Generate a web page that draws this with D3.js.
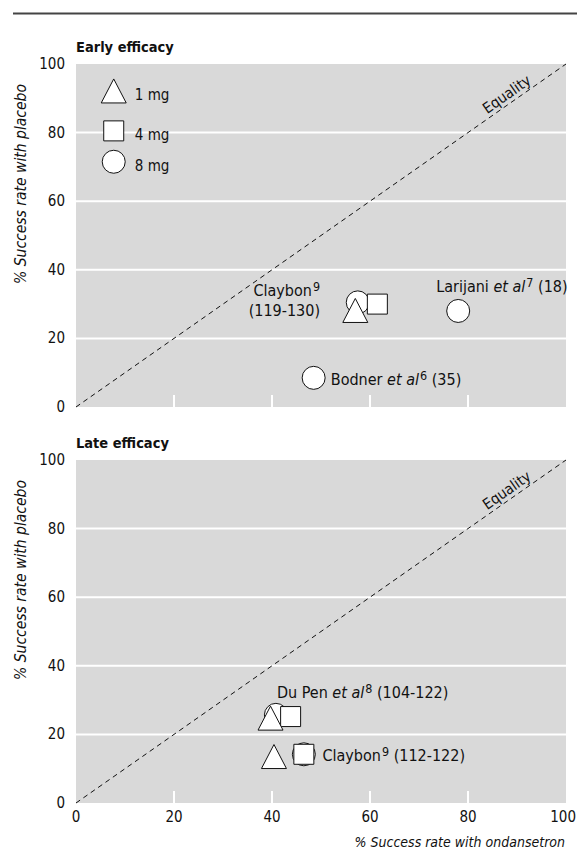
<!DOCTYPE html>
<html>
<head>
<meta charset="utf-8">
<script src="https://cdn.jsdelivr.net/npm/d3@7"></script>
<style>
  body { margin: 0; background: #fff; }
  svg text { font-family: "DejaVu Sans Condensed", "Liberation Sans Narrow", sans-serif; fill: #111; }
</style>
</head>
<body>
<div id="chart"></div>
<script>
  //=========================================================================
  // Data
  //=========================================================================

  const panelTitles = ["Early efficacy", "Late efficacy"];
  const doses = ["1 mg", "4 mg", "8 mg"];
  const doseShapes = ["triangle", "square", "circle"];
  const ticks = [0, 20, 40, 60, 80, 100];

  // early efficacy (drawn circle -> square -> triangle)
  const earlyDose = ["8 mg", "4 mg", "1 mg", "8 mg", "8 mg"];
  const earlyOndansetron = [57.5, 61.5, 57, 78, 48.5];
  const earlyPlacebo = [30.5, 30, 28, 28, 8.5];

  // late efficacy
  const lateDose = ["8 mg", "4 mg", "1 mg", "8 mg", "4 mg", "1 mg"];
  const lateOndansetron = [40.8, 43.8, 39.7, 46.5, 46.5, 40.4];
  const latePlacebo = [25.7, 25.2, 24.6, 14.2, 14.2, 13.4];

  // study labels: text parts, position in data units, anchor
  const earlyLabels = [
    { parts: [["Claybon"], ["9", "sup"]], x: 49.8, y: 32.5, anchor: "end" },
    { parts: [["(119-130)"]], x: 49.8, y: 26.5, anchor: "end" },
    { parts: [["Larijani "], ["et al", "it"], ["7", "sup"], [" (18)"]], x: 73.5, y: 33.5, anchor: "start" },
    { parts: [["Bodner "], ["et al", "it"], ["6", "sup"], [" (35)"]], x: 52, y: 6.5, anchor: "start" }
  ];
  const lateLabels = [
    { parts: [["Du Pen "], ["et al", "it"], ["8", "sup"], [" (104-122)"]], x: 41, y: 30.5, anchor: "start" },
    { parts: [["Claybon"], ["9", "sup"], [" (112-122)"]], x: 50.3, y: 12.2, anchor: "start" }
  ];

  //=========================================================================
  // Dimensions
  //=========================================================================

  var width = 577,
      height = 850;

  var svg = d3.select("#chart")
    .append("svg")
    .attr("width", width)
    .attr("height", height);

  var plotLeft = 76,
      plotRight = 566,
      plotH = 343,
      panelTops = [64, 460],
      labelSize = 16,
      tickSize = 15;

  var x = d3.scaleLinear().domain([0, 100]).range([plotLeft, plotRight]);

  // top rule
  svg.append("line")
    .attr("x1", 13).attr("x2", width)
    .attr("y1", 13.5).attr("y2", 13.5)
    .attr("stroke", "#444")
    .attr("stroke-width", 2);

  //=========================================================================
  // Marker shapes
  //=========================================================================

  function shapePath(shape) {
    const p = d3.path();
    if (shape == "triangle") {
      p.moveTo(0, -12.5); p.lineTo(12.5, 11.5); p.lineTo(-12.5, 11.5); p.closePath();
    } else if (shape == "square") {
      p.rect(-10, -10, 20, 20);
    } else {
      p.arc(0, 0, 11.5, 0, 2 * Math.PI);
    }
    return p.toString();
  }
  const shapeOf = d => doseShapes[doses.indexOf(d)];

  // text with italic / superscript pieces
  function addText(sel, parts, fontSize) {
    let raised = false;
    parts.forEach(p => {
      const t = sel.append("tspan").text(p[0]);
      if (p[1] == "it") t.style("font-style", "italic");
      if (p[1] == "sup") {
        t.attr("font-size", fontSize * 0.78).attr("dy", -5).attr("dx", 1);
        raised = true;
      } else if (raised) {
        t.attr("dy", 5);
        raised = false;
      }
    });
  }

  //=========================================================================
  // Panels
  //=========================================================================

  function drawPanel(i, doseArr, xArr, yArr, labels) {
    const top = panelTops[i];
    const y = d3.scaleLinear().domain([0, 100]).range([top + plotH, top]);
    const g = svg.append("g");

    // background
    g.append("rect")
      .attr("x", x(0)).attr("y", y(100))
      .attr("width", x(100) - x(0)).attr("height", y(0) - y(100))
      .attr("fill", "#d9d9d9");

    // horizontal white gridlines
    g.selectAll("line.grid")
      .data(ticks.filter(t => t > 0 && t < 100))
      .enter().append("line")
      .attr("x1", x(0)).attr("x2", x(100))
      .attr("y1", d => y(d)).attr("y2", d => y(d))
      .attr("stroke", "#fff").attr("stroke-width", 2);

    // short white ticks at the bottom
    g.selectAll("line.vtick")
      .data(ticks.filter(t => t > 0 && t < 100))
      .enter().append("line")
      .attr("x1", d => x(d)).attr("x2", d => x(d))
      .attr("y1", y(0)).attr("y2", y(0) - 12)
      .attr("stroke", "#fff").attr("stroke-width", 2);

    // y tick labels
    g.selectAll("text.ytick")
      .data(ticks)
      .enter().append("text")
      .attr("x", x(0) - 11)
      .attr("y", d => y(d) + 5)
      .attr("text-anchor", "end")
      .attr("font-size", tickSize)
      .text(d => d);

    // panel title
    g.append("text")
      .attr("x", x(0))
      .attr("y", top - 12)
      .attr("font-size", 14.5)
      .attr("font-weight", "bold")
      .text(panelTitles[i]);

    // y axis title
    g.append("text")
      .attr("transform", `translate(26,${top + 120})rotate(-90)`)
      .attr("text-anchor", "middle")
      .attr("font-size", 15.5)
      .style("font-style", "italic")
      .text("% Success rate with placebo");

    // equality line
    g.append("line")
      .attr("x1", x(0)).attr("y1", y(0))
      .attr("x2", x(100)).attr("y2", y(100))
      .attr("stroke", "#111")
      .attr("stroke-width", 1)
      .attr("stroke-dasharray", "5,4");

    const ang = Math.atan2(y(0) - y(100), x(100) - x(0)) * 180 / Math.PI;
    g.append("text")
      .attr("transform", `translate(${x(88.5)},${y(88.5) - 5})rotate(${-ang})`)
      .attr("text-anchor", "middle")
      .attr("font-size", 15)
      .text("Equality");

    // points
    g.selectAll("path.pt")
      .data(doseArr.map((d, k) => ({ dose: d, x: xArr[k], y: yArr[k] })))
      .enter().append("path")
      .attr("d", d => shapePath(shapeOf(d.dose)))
      .attr("transform", d => `translate(${x(d.x)},${y(d.y)})`)
      .attr("fill", "#fff")
      .attr("stroke", "#111")
      .attr("stroke-width", 1);

    // labels
    labels.forEach(l => {
      const t = g.append("text")
        .attr("x", x(l.x)).attr("y", y(l.y))
        .attr("text-anchor", l.anchor)
        .attr("font-size", labelSize);
      addText(t, l.parts, labelSize);
    });

    return y;
  }

  const yTop = drawPanel(0, earlyDose, earlyOndansetron, earlyPlacebo, earlyLabels);
  const yBot = drawPanel(1, lateDose, lateOndansetron, latePlacebo, lateLabels);

  //=========================================================================
  // Legend (top panel)
  //=========================================================================

  const legendY = [92, 80.5, 71.5];
  doses.forEach((d, k) => {
    svg.append("path")
      .attr("d", shapePath(doseShapes[k]))
      .attr("transform", `translate(${x(7.7)},${yTop(legendY[k])})`)
      .attr("fill", "#fff").attr("stroke", "#111");
    svg.append("text")
      .attr("x", x(12)).attr("y", yTop(legendY[k]) + 9)
      .attr("font-size", tickSize)
      .text(d);
  });

  //=========================================================================
  // x axis (bottom panel)
  //=========================================================================

  svg.selectAll("text.xtick")
    .data(ticks)
    .enter().append("text")
    .attr("x", d => d == 100 ? width - 1 : x(d))
    .attr("y", yBot(0) + 19)
    .attr("text-anchor", d => d == 100 ? "end" : "middle")
    .attr("font-size", tickSize)
    .text(d => d);

  svg.append("text")
    .attr("x", x(100) - 1)
    .attr("y", yBot(0) + 44)
    .attr("text-anchor", "end")
    .attr("font-size", 14)
    .style("font-style", "italic")
    .text("% Success rate with ondansetron");
</script>
</body>
</html>
